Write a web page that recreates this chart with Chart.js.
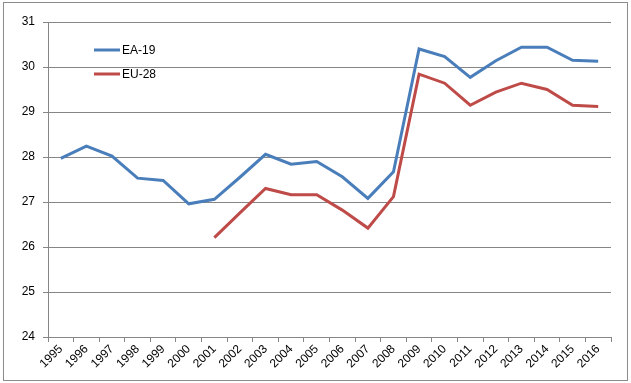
<!DOCTYPE html>
<html>
<head>
<meta charset="utf-8">
<script src="https://cdn.jsdelivr.net/npm/chart.js@4"></script>
<style>
  html, body { margin: 0; padding: 0; background: #fff; }
  #wrap { width: 631px; height: 383px; position: relative; }
</style>
</head>
<body>
<div id="wrap"><canvas id="chart" width="631" height="383"></canvas></div>
<script>
var years = ["1995","1996","1997","1998","1999","2000","2001","2002","2003","2004","2005",
             "2006","2007","2008","2009","2010","2011","2012","2013","2014","2015","2016"];
var ea19 = [27.97, 28.24, 28.02, 27.53, 27.48, 26.96, 27.06, 27.55, 28.06, 27.84, 27.90,
            27.56, 27.08, 27.67, 30.40, 30.23, 29.77, 30.14, 30.44, 30.44, 30.15, 30.13];
var eu28 = [null, null, null, null, null, null, 26.21, 26.76, 27.30, 27.16, 27.16,
            26.82, 26.42, 27.12, 29.84, 29.64, 29.15, 29.44, 29.64, 29.50, 29.15, 29.12];
var yMin = 24, yMax = 31;

var font = { family: "'Liberation Sans', Arial, sans-serif", size: 12 };

// legend drawn inside the plot, like the spreadsheet original
var insideLegend = {
  id: 'insideLegend',
  afterDatasetsDraw: function (chart) {
    var c = chart.ctx;
    c.save();
    c.font = '12px ' + font.family;
    c.textBaseline = 'middle';
    chart.data.datasets.forEach(function (ds, i) {
      var y = 50 + i * 24;
      c.strokeStyle = ds.borderColor;
      c.lineWidth = 3;
      c.beginPath();
      c.moveTo(94, y);
      c.lineTo(120, y);
      c.stroke();
      c.fillStyle = '#000';
      c.fillText(ds.label, 122, y + 1);
    });
    c.restore();
  }
};

var frame = {
  id: 'frame',
  afterDraw: function (chart) {
    var c = chart.ctx;
    c.save();
    c.strokeStyle = '#8c8c8c';
    c.lineWidth = 1;
    c.strokeRect(3.5, 2.5, 624, 378);
    c.restore();
  }
};

new Chart(document.getElementById('chart'), {
  type: 'line',
  data: {
    labels: years,
    datasets: [
      { label: 'EA-19', data: ea19, borderColor: '#4a7ebb', borderWidth: 3, pointRadius: 0, tension: 0, fill: false },
      { label: 'EU-28', data: eu28, borderColor: '#be4b48', borderWidth: 3, pointRadius: 0, tension: 0, fill: false }
    ]
  },
  options: {
    responsive: false,
    animation: false,
    layout: { padding: { left: 8, right: 20, top: 22, bottom: 0 } },
    plugins: { legend: { display: false }, tooltip: { enabled: false } },
    scales: {
      x: {
        offset: true,
        grid: { offset: true, drawOnChartArea: false, drawTicks: true, tickLength: 5, color: '#868686' },
        border: { color: '#868686' },
        ticks: { minRotation: 45, maxRotation: 45, autoSkip: false, color: '#000', font: font, padding: 0 },
        afterFit: function (s) { s.height = 46; }
      },
      y: {
        min: yMin, max: yMax,
        grid: { color: '#868686', tickLength: 5 },
        border: { color: '#868686' },
        ticks: { stepSize: 1, color: '#000', font: font, padding: 8 },
        afterFit: function (s) { s.width = 40; }
      }
    }
  },
  plugins: [insideLegend, frame]
});
</script>
</body>
</html>
